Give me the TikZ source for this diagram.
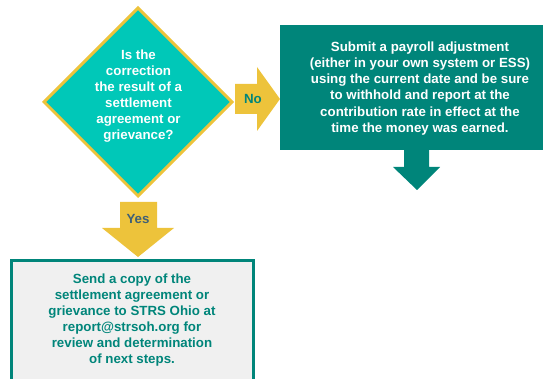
\documentclass[tikz,border=0pt]{standalone}
\usepackage{fontspec}
\setmainfont{Liberation Sans}
\usetikzlibrary{shapes.geometric}
\definecolor{yel}{HTML}{EDC33B}
\definecolor{turq}{HTML}{00C8B8}
\definecolor{tealbox}{HTML}{00857A}
\definecolor{yestext}{HTML}{3F6076}
\definecolor{lightfill}{HTML}{F0F0F0}
\tikzset{
  txt/.style={font=\fontsize{13.3}{16.1}\selectfont\bfseries, align=center, inner sep=0pt},
}
\begin{document}
\begin{tikzpicture}[x=1pt,y=-1pt]
\useasboundingbox (0,0) rectangle (543,379);
% decision diamond
\node[diamond, aspect=1, minimum width=189, minimum height=189, inner sep=0pt,
      fill=turq, draw=yel, line width=3pt] (dia) at (138,102) {};
\node[txt, text=white] (q) at (138.5,96) {Is the\\correction\\the result of a\\settlement\\agreement or\\grievance?};
% No arrow
\fill[yel] (235,84) -- (257,84) -- (257,67) -- (280,99) -- (257,131) -- (257,114) -- (235,114) -- cycle;
\node[txt, text=tealbox] (no) at (253,99) {No};
% right box
\fill[tealbox] (280,25) rectangle (543,150);
\node[txt, text=white] (sub) at (420,88.5) {Submit a payroll adjustment\\(either in your own system or ESS)\\using the current date and be sure\\to withhold and report at the\\contribution rate in effect at the\\time the money was earned.};
% down arrow from right box
\fill[tealbox] (404,149) -- (429,149) -- (429,167) -- (440,167) -- (417,190) -- (393,167) -- (404,167) -- cycle;
% Yes arrow
\fill[yel] (120,202) -- (157,202) -- (157,228) -- (174,228) -- (138,257) -- (102,228) -- (120,228) -- cycle;
\node[txt, text=yestext] (yes) at (138,218.5) {Yes};
% bottom box
\filldraw[fill=lightfill, draw=tealbox, line width=3pt] (11.5,260.5) rectangle (253.5,390);
\node[txt, text=tealbox] (send) at (132,320) {Send a copy of the\\settlement agreement or\\grievance to STRS Ohio at\\report@strsoh.org for\\review and determination\\of next steps.};
\end{tikzpicture}
\end{document}
